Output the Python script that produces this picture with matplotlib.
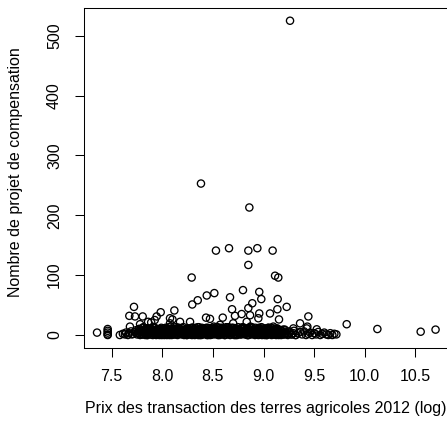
import matplotlib.pyplot as plt

# bande dense pres de zero
x_band = [
    7.58, 7.61, 7.63, 7.64, 7.66, 7.67, 7.69, 7.70, 7.71, 7.73,
    7.74, 7.75, 7.76, 7.77, 7.78, 7.79, 7.80, 7.81, 7.82, 7.83,
    7.84, 7.85, 7.86, 7.87, 7.88, 7.89, 7.90, 7.91, 7.92, 7.93,
    7.94, 7.95, 7.96, 7.97, 7.98, 7.99, 8.00, 8.01, 8.02, 8.03,
    8.04, 8.05, 8.06, 8.07, 8.08, 8.09, 8.10, 8.11, 8.12, 8.13,
    8.14, 8.15, 8.16, 8.17, 8.18, 8.19, 8.20, 8.21, 8.22, 8.23,
    8.24, 8.25, 8.26, 8.27, 8.28, 8.29, 8.30, 8.31, 8.32, 8.33,
    8.34, 8.35, 8.36, 8.37, 8.38, 8.39, 8.40, 8.41, 8.42, 8.43,
    8.44, 8.45, 8.46, 8.47, 8.48, 8.49, 8.50, 8.51, 8.52, 8.53,
    8.54, 8.55, 8.56, 8.57, 8.58, 8.59, 8.60, 8.61, 8.62, 8.63,
    8.64, 8.65, 8.66, 8.67, 8.68, 8.69, 8.70, 8.71, 8.72, 8.73,
    8.74, 8.75, 8.76, 8.77, 8.78, 8.79, 8.80, 8.81, 8.82, 8.83,
    8.84, 8.85, 8.86, 8.87, 8.88, 8.89, 8.90, 8.91, 8.92, 8.93,
    8.94, 8.95, 8.96, 8.97, 8.98, 8.99, 9.00, 9.01, 9.02, 9.03,
    9.04, 9.05, 9.06, 9.07, 9.08, 9.09, 9.10, 9.11, 9.12, 9.13,
    9.14, 9.15, 9.16, 9.17, 9.18, 9.19, 9.20, 9.21, 9.22, 9.24,
    9.26, 9.28, 9.30, 9.32, 9.34, 9.36, 9.38, 9.40, 9.42, 9.44,
    9.46, 9.48, 9.50, 9.52, 9.54, 9.56, 9.58, 9.60, 9.62, 9.64,
    9.66, 9.68, 9.70, 9.72,
]
y_band = [
    0, 2, 1, 4, 0, 3, 6, 1, 2, 5,
    8, 1, 3, 10, 0, 6, 2, 12, 4, 1,
    7, 0, 11, 3, 5, 9, 1, 13, 2, 6,
    0, 10, 4, 8, 1, 12, 3, 6, 0, 9,
    2, 11, 5, 0, 14, 7, 1, 4, 10, 2,
    8, 0, 12, 3, 6, 1, 9, 13, 2, 5,
    0, 10, 4, 7, 1, 12, 3, 8, 0, 11,
    5, 2, 13, 0, 9, 6, 1, 11, 4, 7,
    0, 12, 3, 8, 1, 10, 5, 14, 2, 6,
    9, 0, 4, 12, 1, 7, 3, 10, 0, 13,
    5, 2, 11, 0, 8, 4, 12, 1, 6, 9,
    0, 13, 3, 7, 1, 10, 5, 12, 2, 8,
    0, 11, 4, 14, 1, 6, 9, 2, 12, 3,
    7, 0, 10, 5, 13, 1, 8, 3, 11, 0,
    6, 12, 2, 9, 0, 4, 11, 1, 7, 3,
    10, 0, 5, 8, 2, 6, 1, 9, 3, 0,
    4, 1, 7, 0, 3, 5, 1, 6, 0, 2,
    4, 0, 3, 1, 5, 0, 2, 4, 1, 0,
    3, 0, 2, 1,
]
x_band2 = [
    7.765, 7.785, 7.805, 7.825, 7.845, 7.865, 7.885, 7.905, 7.925, 7.945,
    7.965, 7.985, 8.005, 8.025, 8.045, 8.065, 8.085, 8.105, 8.125, 8.145,
    8.165, 8.185, 8.205, 8.225, 8.245, 8.265, 8.285, 8.305, 8.325, 8.345,
    8.365, 8.385, 8.405, 8.425, 8.445, 8.465, 8.485, 8.505, 8.525, 8.545,
    8.565, 8.585, 8.605, 8.625, 8.645, 8.665, 8.685, 8.705, 8.725, 8.745,
    8.765, 8.785, 8.805, 8.825, 8.845, 8.865, 8.885, 8.905, 8.925, 8.945,
    8.965, 8.985, 9.005, 9.025, 9.045, 9.065, 9.085, 9.105, 9.125, 9.145,
    9.165, 9.185, 9.205,
]
y_band2 = [
    3, 9, 1, 6, 11, 2, 8, 0, 12, 5,
    1, 10, 4, 7, 0, 13, 3, 9, 1, 6,
    11, 2, 8, 4, 0, 10, 6, 1, 12, 3,
    7, 0, 9, 5, 2, 11, 1, 8, 4, 13,
    0, 6, 10, 3, 7, 1, 12, 5, 0, 9,
    3, 11, 2, 8, 0, 6, 13, 4, 1, 10,
    5, 0, 9, 2, 12, 7, 1, 4, 0, 8,
    2, 6, 1,
]
x_band3 = [
    7.775, 7.795, 7.815, 7.835, 7.855, 7.875, 7.895, 7.915, 7.935, 7.955,
    7.975, 7.995, 8.015, 8.035, 8.055, 8.075, 8.095, 8.115, 8.135, 8.155,
    8.175, 8.195, 8.215, 8.235, 8.255, 8.275, 8.295, 8.315, 8.335, 8.355,
    8.375, 8.395, 8.415, 8.435, 8.455, 8.475, 8.495, 8.515, 8.535, 8.555,
    8.575, 8.595, 8.615, 8.635, 8.655, 8.675, 8.695, 8.715, 8.735, 8.755,
    8.775, 8.795, 8.815, 8.835, 8.855, 8.875, 8.895, 8.915, 8.935, 8.955,
    8.975, 8.995, 9.015, 9.035, 9.055, 9.075, 9.095, 9.115, 9.135, 9.155,
    9.175, 9.195, 9.215, 9.235, 9.255, 9.275, 9.295, 9.315,
]
y_band3 = [
    5, 1, 8, 3, 0, 10, 4, 7, 2, 9,
    6, 0, 11, 2, 8, 4, 10, 1, 6, 12,
    3, 7, 0, 9, 5, 2, 12, 4, 8, 0,
    10, 6, 3, 12, 7, 0, 5, 10, 2, 6,
    9, 3, 0, 11, 4, 8, 2, 10, 6, 3,
    11, 7, 1, 5, 10, 2, 8, 0, 6, 12,
    9, 3, 6, 0, 10, 4, 8, 2, 11, 5,
    0, 9, 4, 2, 6, 1, 3, 0,
]
x_band4 = [
    7.772, 7.792, 7.812, 7.832, 7.852, 7.872, 7.892, 7.912, 7.932, 7.952,
    7.972, 7.992, 8.012, 8.032, 8.052, 8.072, 8.092, 8.112, 8.132, 8.152,
    8.172, 8.192, 8.212, 8.232, 8.252, 8.272, 8.292, 8.312, 8.332, 8.352,
    8.372, 8.392, 8.412, 8.432, 8.452, 8.472, 8.492, 8.512, 8.532, 8.552,
    8.572, 8.592, 8.612, 8.632, 8.652, 8.672, 8.692, 8.712, 8.732, 8.752,
    8.772, 8.792, 8.812, 8.832, 8.852, 8.872, 8.892, 8.912, 8.932, 8.952,
    8.972, 8.992, 9.012, 9.032, 9.052, 9.072, 9.092, 9.112, 9.132, 9.152,
    9.172, 9.192,
]
y_band4 = [
    10, 6, 13, 0, 8, 5, 1, 12, 7, 3,
    0, 8, 6, 12, 2, 9, 0, 7, 13, 1,
    9, 12, 5, 1, 11, 7, 0, 9, 3, 13,
    1, 12, 7, 4, 0, 9, 12, 1, 13, 8,
    2, 12, 6, 1, 13, 5, 9, 0, 11, 7,
    1, 13, 4, 10, 0, 12, 5, 9, 3, 1,
    6, 11, 0, 8, 3, 12, 1, 6, 10, 2,
    8, 4,
]
x_band5 = [
    7.818, 7.838, 7.858, 7.878, 7.898, 7.918, 7.938, 7.958, 7.978, 7.998,
    8.018, 8.038, 8.058, 8.078, 8.098, 8.118, 8.138, 8.158, 8.178, 8.198,
    8.218, 8.238, 8.258, 8.278, 8.298, 8.318, 8.338, 8.358, 8.378, 8.398,
    8.418, 8.438, 8.458, 8.478, 8.498, 8.518, 8.538, 8.558, 8.578, 8.598,
    8.618, 8.638, 8.658, 8.678, 8.698, 8.718, 8.738, 8.758, 8.778, 8.798,
    8.818, 8.838, 8.858, 8.878, 8.898, 8.918, 8.938, 8.958, 8.978, 8.998,
    9.018, 9.038, 9.058, 9.078, 9.098, 9.118, 9.138, 9.158,
]
y_band5 = [
    4, 7, 2, 10, 5, 3, 8, 6, 4, 2,
    7, 5, 9, 3, 6, 8, 2, 10, 4, 7,
    3, 6, 9, 4, 5, 2, 7, 10, 5, 3,
    8, 4, 6, 9, 2, 7, 5, 3, 10, 6,
    4, 8, 3, 7, 5, 2, 9, 6, 4, 10,
    7, 3, 8, 5, 2, 6, 4, 9, 3, 7,
    5, 8, 2, 6, 4, 9, 3, 5,
]

# points intermediaires
x_mid = [
    7.355, 7.46, 7.46, 7.46, 7.46, 7.46,
    7.674, 7.73, 7.806, 7.944, 8.076, 8.432, 8.471, 8.597, 8.718, 8.867,
    9.153, 9.361, 9.443, 9.433, 9.822,
    7.72, 7.984, 8.119, 8.958, 8.784, 9.064, 8.689, 8.85, 9.137, 9.229,
    8.889, 8.296, 8.35,
    7.68, 7.78, 7.86, 7.89, 7.925, 8.076, 8.10, 8.175, 8.274, 8.57,
    8.70, 8.834, 8.949, 9.097, 9.295, 9.427, 9.526,
    10.125, 10.553, 10.70,
]
y_mid = [
    4, 10, 7, 4, 1, 0,
    32, 31, 31, 31, 28, 29, 27, 29, 32, 33,
    26, 19.5, 31, 14, 18,
    47, 38, 41, 36, 35, 36, 43, 45, 43, 47,
    53, 51, 58,
    14, 18, 22, 21, 25, 19.5, 26, 22, 22, 17,
    19.5, 22, 28, 14, 11, 11, 9.5,
    10, 5.5, 9,
]

# valeurs elevees
x_high = [9.262, 8.382, 8.86, 8.53, 8.659, 8.85, 8.939, 9.09, 8.85, 9.114,
          9.146, 8.29, 8.797, 8.958, 8.514, 8.439, 8.669, 8.978, 9.14]
y_high = [525, 253, 213, 141, 145, 141, 145, 141, 117, 99,
          96, 96, 75, 72, 70, 66, 63, 60, 60]

x_ticks = [7.5, 8.0, 8.5, 9.0, 9.5, 10.0, 10.5]
y_ticks = [0, 100, 200, 300, 400, 500]

plt.rcParams['font.family'] = ['Liberation Sans', 'DejaVu Sans']

fig = plt.figure(figsize=(4.47, 4.30), dpi=100)
W, H = 447, 430
groups = [(x_band, y_band), (x_band2, y_band2), (x_band3, y_band3),
          (x_band4, y_band4), (x_band5, y_band5), (x_mid, y_mid), (x_high, y_high)]
xs = [v for g in groups for v in g[0]]
ys = [v for g in groups for v in g[1]]
# marge de 4% comme R
xr = max(xs) - min(xs)
yr = max(ys) - min(ys)
xlo, xhi = min(xs) - 0.04 * xr, max(xs) + 0.04 * xr
ylo, yhi = min(ys) - 0.04 * yr, max(ys) + 0.04 * yr
px_x = 101.2
px_y = 0.5986
left = 83.5
top = 335 - yhi * px_y
bottom = 335 - ylo * px_y
ax = fig.add_axes([left / W, (H - bottom) / H, (xhi - xlo) * px_x / W, (bottom - top) / H])

for xx, yy in groups:
    ax.scatter(xx, yy, s=27, facecolors='none', edgecolors='black', linewidths=0.95)

ax.set_xlim(xlo, xhi)
ax.set_ylim(ylo, yhi)
ax.set_xticks(x_ticks)
ax.set_xticklabels(['%.1f' % v for v in x_ticks])
ax.set_yticks(y_ticks)
ax.set_yticklabels([str(v) for v in y_ticks], rotation=90, va='center')
ax.tick_params(direction='out', length=6.5, width=0.75, labelsize=11.5, colors='black')
ax.tick_params(axis='x', pad=9)
ax.tick_params(axis='y', pad=9)
for sp in ax.spines.values():
    sp.set_linewidth(0.75)

fig.text(266 / W, 1 - 408 / H, 'Prix des transaction des terres agricoles 2012 (log)',
         ha='center', va='center', fontsize=11.5)
fig.text(16 / W, 1 - 172 / H, 'Nombre de projet de compensation',
         ha='center', va='center', rotation=90, fontsize=11.5)

fig.savefig('out.png', dpi=100)
